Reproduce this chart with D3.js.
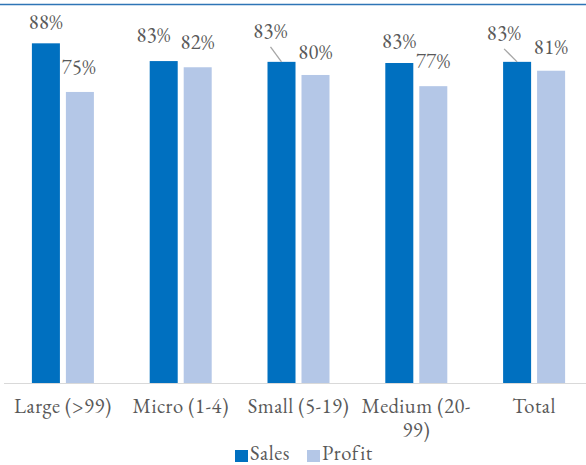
<!DOCTYPE html>
<html>
<head>
<meta charset="utf-8">
<script src="https://cdn.jsdelivr.net/npm/d3@7"></script>
<style>
  html, body { margin: 0; padding: 0; background: #fff; }
  svg { display: block; }
</style>
</head>
<body>
<svg id="chart" width="586" height="465"></svg>
<script>
// ---- data ----
const categories = ["Large (>99)", "Micro (1-4)", "Small (5-19)", "Medium (20-99)", "Total"];
const categoryLines = [["Large (>99)"], ["Micro (1-4)"], ["Small (5-19)"], ["Medium (20-", "99)"], ["Total"]];
const seriesNames = ["Sales", "Profit"];
const salesValues = [88.0, 83.4, 83.2, 82.9, 83.2];
const profitValues = [75.4, 81.8, 79.8, 76.9, 80.9];
const salesLabels = ["88%", "83%", "83%", "83%", "83%"];
const profitLabels = ["75%", "82%", "80%", "77%", "81%"];
const colors = ["#0070C0", "#B4C7E7"];

// ---- layout (label nudges as placed in the original, px) ----
const labelNudge = {
  Sales:  [[0, -14], [-10, -19], [-11, -24], [0, -15], [-13, -22]],
  Profit: [[-1, -18], [0, -18], [0, -16], [0, -18], [0, -17]]
};
const leader = { Sales: [false, false, true, false, true], Profit: [false, false, false, false, false] };

const FONT = '"EB Garamond", "Liberation Serif", serif';
const TXT = "#595959";
const FS = 20.5, LS = 0.5;

const svg = d3.select("#chart");
const W = 586, H = 465;
const baseY = 383;

const x0 = d3.scaleBand().domain(categories).range([4, 593]).padding(0);
const groupW = 62;
const x1 = d3.scaleBand().domain(seriesNames).range([0, groupW]).paddingInner(0.176).paddingOuter(0);
const y = d3.scaleLinear().domain([0, 90]).range([baseY, baseY - 347.4]);

// top blue rule
svg.append("line").attr("x1", 0).attr("x2", W).attr("y1", 4.5).attr("y2", 4.5)
  .attr("stroke", "#2E75B6").attr("stroke-width", 1.5);

const seriesData = [
  { name: "Sales", values: salesValues, labels: salesLabels, color: colors[0] },
  { name: "Profit", values: profitValues, labels: profitLabels, color: colors[1] }
];

const groupX = c => x0(c) + x0.bandwidth() / 2 - groupW / 2;

seriesData.forEach(s => {
  svg.append("g").selectAll("rect").data(categories).join("rect")
    .attr("x", c => groupX(c) + x1(s.name))
    .attr("y", (c, i) => y(s.values[i]))
    .attr("width", x1.bandwidth())
    .attr("height", (c, i) => baseY - y(s.values[i]))
    .attr("fill", s.color);
});

// axis (category axis at baseline)
const xAxis = d3.axisBottom(x0).tickSize(0).tickFormat("");
const axG = svg.append("g").attr("transform", `translate(0,${baseY})`).call(xAxis);
axG.select(".domain").attr("stroke", "#D9D9D9").attr("stroke-width", 1.2)
  .attr("d", `M4,0.5H${W}`);

function styleText(sel) {
  return sel.style("font-family", FONT).style("fill", TXT)
    .style("font-size", FS + "px").style("letter-spacing", LS + "px");
}

// category labels (one text per line)
const catG = svg.append("g");
categories.forEach((c, i) => {
  const cx = x0(c) + x0.bandwidth() / 2;
  categoryLines[i].forEach((ln, k) => {
    styleText(catG.append("text"))
      .attr("x", cx)
      .attr("y", 413 + k * 24)
      .attr("text-anchor", "middle")
      .text(ln);
  });
});

// data labels
seriesData.forEach(s => {
  categories.forEach((c, i) => {
    const cx = groupX(c) + x1(s.name) + x1.bandwidth() / 2;
    const top = y(s.values[i]);
    const [dx, dy] = labelNudge[s.name][i];
    const lx = cx + dx, ly = top + dy;
    styleText(svg.append("text"))
      .attr("x", lx).attr("y", ly)
      .attr("text-anchor", "middle")
      .text(s.labels[i]);
    if (leader[s.name][i]) {
      svg.append("line")
        .attr("x1", lx).attr("y1", ly + 9)
        .attr("x2", cx).attr("y2", top)
        .attr("stroke", "#A6A6A6").attr("stroke-width", 1.3);
    }
  });
});

// legend
const legend = svg.append("g");
const legendItems = [
  { name: seriesNames[0], color: colors[0], x: 235 },
  { name: seriesNames[1], color: colors[1], x: 307 }
];
legendItems.forEach(d => {
  legend.append("rect").attr("x", d.x).attr("y", 450).attr("width", 13).attr("height", 12).attr("fill", d.color);
  styleText(legend.append("text")).attr("x", d.x + 15).attr("y", 460).text(d.name);
});
</script>
</body>
</html>
